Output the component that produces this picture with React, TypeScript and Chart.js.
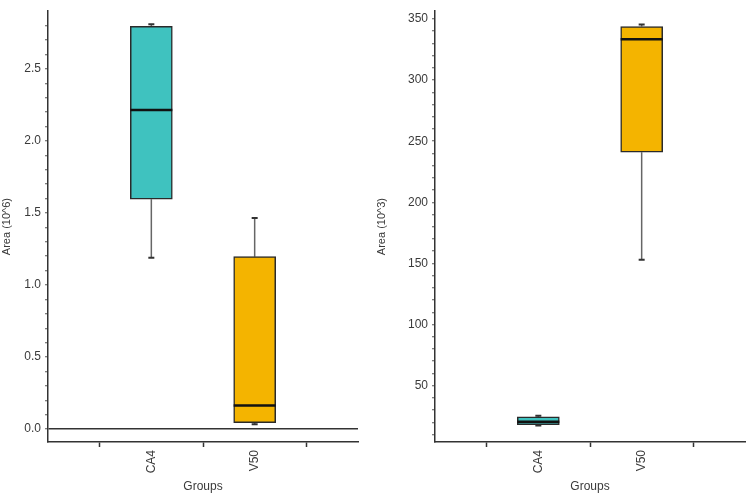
import React, { useEffect, useRef } from "react";
import { Chart, registerables } from "chart.js";

Chart.register(...registerables);

const categories = ["CA4", "V50"];
const categoryPositions = [1, 2];
const categoryBoundaries = [0.5, 1.5, 2.5];

// Left panel: Area (10^6)
const leftMin = [1.19, 0.034];
const leftQ1 = [1.595, 0.045];
const leftMedian = [2.215, 0.165];
const leftQ3 = [2.795, 1.197];
const leftMax = [2.81, 1.465];
const leftMajorTicks = [0.0, 0.5, 1.0, 1.5, 2.0, 2.5];

// Right panel: Area (10^3)
const rightMin = [17.3, 153];
const rightQ1 = [18.1, 241];
const rightMedian = [20.5, 333.5];
const rightQ3 = [24.5, 343.8];
const rightMax = [25.3, 345.5];
const rightMajorTicks = [50, 100, 150, 200, 250, 300, 350];

const boxColors = ["#3fc2bf", "#f4b400"];
const FONT = "'Liberation Sans', Arial, sans-serif";
const TEXT = "#3a3a3a";
const AXIS = "#333333";

type PanelCfg = {
  min: number[];
  q1: number[];
  median: number[];
  q3: number[];
  max: number[];
  majorTicks: number[];
  minorStep: number;
  yMin: number;
  yMax: number;
  yTitle: string;
  yWidth: number;
  rightPad: number;
  decimals: number;
  zeroLine: boolean;
};

function buildMinor(cfg: PanelCfg): number[] {
  const out: number[] = [];
  const start = Math.ceil(cfg.yMin / cfg.minorStep);
  const end = Math.floor(cfg.yMax / cfg.minorStep);
  for (let k = start; k <= end; k++) out.push(+(k * cfg.minorStep).toFixed(6));
  return out;
}

function makeChart(canvas: HTMLCanvasElement, cfg: PanelCfg) {
  const allTicks = buildMinor(cfg);
  const isMajor = (v: number) => cfg.majorTicks.some((m) => Math.abs(m - v) < 1e-6);

  const boxPlugin = {
    id: "boxExtras",
    beforeDatasetsDraw(chart: any) {
      const { ctx, scales } = chart;
      const xs = scales.x;
      const ys = scales.y;
      ctx.save();
      categoryPositions.forEach((p, i) => {
        const x = xs.getPixelForValue(p);
        ctx.strokeStyle = "#666";
        ctx.lineWidth = 1.5;
        ctx.beginPath();
        ctx.moveTo(x, ys.getPixelForValue(cfg.q3[i]));
        ctx.lineTo(x, ys.getPixelForValue(cfg.max[i]));
        ctx.moveTo(x, ys.getPixelForValue(cfg.q1[i]));
        ctx.lineTo(x, ys.getPixelForValue(cfg.min[i]));
        ctx.stroke();
        ctx.strokeStyle = "#333";
        ctx.lineWidth = 2;
        ctx.beginPath();
        ctx.moveTo(x - 3, ys.getPixelForValue(cfg.max[i]));
        ctx.lineTo(x + 3, ys.getPixelForValue(cfg.max[i]));
        ctx.moveTo(x - 3, ys.getPixelForValue(cfg.min[i]));
        ctx.lineTo(x + 3, ys.getPixelForValue(cfg.min[i]));
        ctx.stroke();
      });
      ctx.restore();
    },
    afterDatasetsDraw(chart: any) {
      const { ctx, scales } = chart;
      const xs = scales.x;
      const ys = scales.y;
      const meta = chart.getDatasetMeta(0);
      ctx.save();
      ctx.strokeStyle = "#111";
      ctx.lineWidth = 2.5;
      categoryPositions.forEach((p, i) => {
        const bar = meta.data[i];
        const half = bar ? bar.width / 2 : 21;
        const x = xs.getPixelForValue(p);
        const y = ys.getPixelForValue(cfg.median[i]);
        ctx.beginPath();
        ctx.moveTo(x - half, y);
        ctx.lineTo(x + half, y);
        ctx.stroke();
      });
      ctx.restore();
    },
  };

  return new Chart(canvas, {
    type: "bar",
    data: {
      datasets: [
        {
          data: categoryPositions.map((p, i) => ({ x: p, y: [cfg.q1[i], cfg.q3[i]] })) as any,
          backgroundColor: boxColors,
          borderColor: "#2a2a2a",
          borderWidth: 1.5,
          borderSkipped: false,
          barThickness: 42,
        } as any,
      ],
    },
    options: {
      animation: false,
      responsive: false,
      maintainAspectRatio: false,
      layout: { padding: { top: 3, right: cfg.rightPad, left: 0, bottom: 0 } },
      plugins: { legend: { display: false }, tooltip: { enabled: false } },
      scales: {
        x: {
          type: "linear",
          min: 0,
          max: 3,
          offset: false,
          afterBuildTicks: (s: any) => {
            const vals = [...categoryBoundaries, ...categoryPositions].sort((a, b) => a - b);
            s.ticks = vals.map((v) => ({ value: v }));
          },
          afterFit: (s: any) => {
            s.height = 55;
          },
          ticks: {
            autoSkip: false,
            minRotation: 90,
            maxRotation: 90,
            padding: 3,
            color: TEXT,
            font: { family: FONT, size: 12 },
            callback: (v: any) => {
              const idx = categoryPositions.indexOf(Number(v));
              return idx >= 0 ? categories[idx] : "";
            },
          },
          grid: {
            offset: false,
            drawOnChartArea: false,
            tickLength: 5,
            tickWidth: 1.5,
            tickColor: (c: any) =>
              c.tick && categoryPositions.includes(c.tick.value) ? "rgba(0,0,0,0)" : AXIS,
          },
          border: { display: true, color: AXIS, width: 1.5 },
          title: {
            display: true,
            text: "Groups",
            color: TEXT,
            font: { family: FONT, size: 12 },
            padding: { top: 0, bottom: 3 },
          },
        },
        y: {
          type: "linear",
          min: cfg.yMin,
          max: cfg.yMax,
          afterBuildTicks: (s: any) => {
            s.ticks = allTicks.map((v) => ({ value: v }));
          },
          afterFit: (s: any) => {
            s.width = cfg.yWidth;
          },
          ticks: {
            autoSkip: false,
            padding: 4,
            color: TEXT,
            font: { family: FONT, size: 12 },
            callback: (v: any) => (isMajor(Number(v)) ? Number(v).toFixed(cfg.decimals) : ""),
          },
          grid: {
            drawOnChartArea: cfg.zeroLine,
            color: (c: any) =>
              cfg.zeroLine && c.tick && Math.abs(c.tick.value) < 1e-9 ? AXIS : "rgba(0,0,0,0)",
            lineWidth: 1.5,
            tickLength: 3,
            tickWidth: 1.2,
            tickColor: "#555",
          },
          border: { display: true, color: AXIS, width: 1.5 },
          title: {
            display: true,
            text: cfg.yTitle,
            color: TEXT,
            font: { family: FONT, size: 11 },
            padding: { top: 0, bottom: 0 },
          },
        },
      },
    },
    plugins: [boxPlugin],
  } as any);
}

const leftCfg: PanelCfg = {
  min: leftMin,
  q1: leftQ1,
  median: leftMedian,
  q3: leftQ3,
  max: leftMax,
  majorTicks: leftMajorTicks,
  minorStep: 0.1,
  yMin: -0.089,
  yMax: 2.9,
  yTitle: "Area (10^6)",
  yWidth: 48,
  rightPad: 17,
  decimals: 1,
  zeroLine: true,
};

const rightCfg: PanelCfg = {
  min: rightMin,
  q1: rightQ1,
  median: rightMedian,
  q3: rightQ3,
  max: rightMax,
  majorTicks: rightMajorTicks,
  minorStep: 10,
  yMin: 3.9,
  yMax: 356.4,
  yTitle: "Area (10^3)",
  yWidth: 60,
  rightPad: 5,
  decimals: 0,
  zeroLine: false,
};

export default function App() {
  const leftRef = useRef<HTMLCanvasElement>(null);
  const rightRef = useRef<HTMLCanvasElement>(null);

  useEffect(() => {
    const a = makeChart(leftRef.current!, leftCfg);
    const b = makeChart(rightRef.current!, rightCfg);
    return () => {
      a.destroy();
      b.destroy();
    };
  }, []);

  return (
    <div
      style={{
        position: "fixed",
        left: 0,
        top: 0,
        width: 750,
        height: 497,
        background: "#fff",
        display: "flex",
      }}
    >
      <div style={{ width: 375, height: 497, position: "relative" }}>
        <canvas ref={leftRef} width={375} height={497} style={{ width: 375, height: 497, display: "block" }} />
      </div>
      <div style={{ width: 375, height: 497, position: "relative" }}>
        <canvas ref={rightRef} width={375} height={497} style={{ width: 375, height: 497, display: "block" }} />
      </div>
    </div>
  );
}
